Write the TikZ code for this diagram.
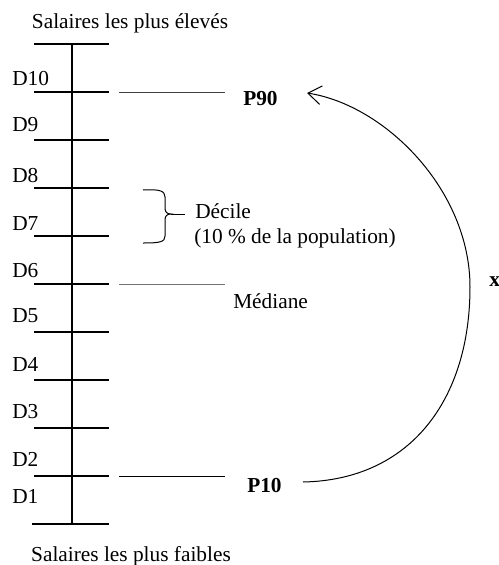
\documentclass[tikz,border=0pt]{standalone}
\usepackage{fontspec}
\setmainfont{Liberation Serif}
\usetikzlibrary{arrows.meta}

\begin{document}
\begin{tikzpicture}[x=0.75pt,y=-0.75pt,
  lab/.style={font=\fontsize{16}{19}\selectfont,inner sep=0pt},
  blab/.style={font=\fontsize{16}{19}\selectfont\bfseries,inner sep=0pt},
  scaleline/.style={line width=1.5pt},
  thinline/.style={line width=0.75pt}]
  \useasboundingbox (0,0) rectangle (499,565);
  \coordinate (top) at (72,44);
  \coordinate (bot) at (72,524);
  \draw[scaleline] (top) -- (bot);   % vertical scale
  \foreach \y in {44,92,...,476}
    \draw[scaleline] (34,\y) coordinate (tl\y) -- (109,\y) coordinate (tr\y);   % ticks
  \draw[scaleline] (32,524) coordinate (tl524) -- (109,524) coordinate (tr524);  % bottom tick
  \foreach \i/\yb in {10/85,9/131,8/182,7/230,6/277,5/322,4/371,3/418,2/466,1/503}
    \node[lab,anchor=base west] (d\i) at (12,\yb) {D\i};   % decile labels
  \node[lab,anchor=base] (high) at (130,28.5) {Salaires les plus élevés};
  \node[lab,anchor=base] (low) at (131,561) {Salaires les plus faibles};
  % leader lines and labels
  \draw[thinline,black!75] (119,92) coordinate (l90) -- (225,92) coordinate (r90);
  \draw[thinline,black!55] (119,284) coordinate (lmed) -- (225,284) coordinate (rmed);
  \draw[thinline] (119,476) coordinate (l10) -- (225,476) coordinate (r10);
  \node[blab,anchor=base west] (p90) at (243,105) {P90};
  \node[lab,anchor=base west] (med) at (233,308) {Médiane};
  \node[blab,anchor=base west] (p10) at (247,492) {P10};
  % brace for one decile
  \coordinate (bt) at (143,190);
  \coordinate (btip) at (171,214);
  \coordinate (bb) at (143,243);
  \draw[thinline] (bt) .. controls (160,189) and (165,191) .. (165,197) -- (165,208)
    .. controls (165,212) and (167,214) .. (btip)
    .. controls (167,214) and (165,216) .. (165,220) -- (165,236)
    .. controls (165,242) and (160,243) .. (bb);
  \coordinate (bend) at (185,214);
  \draw[thinline] (btip) -- (bend);
  \node[lab,anchor=base west] (decile) at (195,218) {Décile};
  \node[lab,anchor=base west] (pop) at (194,243) {(10 \% de la population)};
  % arc from P10 to P90
  \coordinate (arcA) at (303,482);
  \coordinate (xr) at (470,287);
  \coordinate (arcB) at (307,93);
  \draw[thinline,-{Straight Barb[length=10pt,width=14pt]}] (arcA) .. controls (410,480) and (470,400) .. (xr) .. controls (470,190) and (385,105) .. (arcB);
  \node[blab,anchor=base west] (xlab) at (489,286) {x};
\end{tikzpicture}
\end{document}
